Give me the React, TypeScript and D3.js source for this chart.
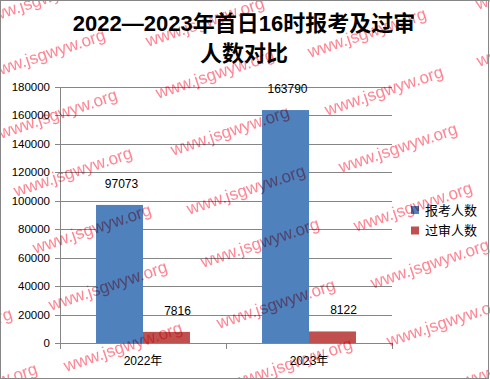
import React from "react";
import * as d3 from "d3";

const categories = ["2022年", "2023年"];
const seriesNames = ["报考人数", "过审人数"];
const applicants = [97073, 163790];
const approved = [7816, 8122];
const seriesColors = ["#4F81BD", "#C0504D"];
const yTicks = [0, 20000, 40000, 60000, 80000, 100000, 120000, 140000, 160000, 180000];
const titleLines = ["2022—2023年首日16时报考及过审", "人数对比"];
const watermarkText = "www.jsgwyw.org";
const watermarkCenters: [number, number][] = [
  [40, 0], [46, 54], [58, 114], [73, 172], [92, 229], [108, 286], [123, 347],
  [-47, 333], [-22, 388],
  [205, 22], [215, 74], [230, 131], [246, 190], [260, 243], [276, 304], [293, 363],
  [367, 33], [384, 91], [398, 148], [413, 207], [430, 264], [446, 322], [462, 382],
  [535, -15], [536, 42],
];

const W = 490;
const H = 379;
const plot = { left: 60, right: 392, top: 87, bottom: 343 };
const font = "'Liberation Sans', Arial, 'Noto Sans CJK SC', sans-serif";

export default function App() {
  const y = d3.scaleLinear().domain([0, 180000]).range([plot.bottom, plot.top]);
  const x = d3
    .scaleBand<string>()
    .domain(categories)
    .range([plot.left, plot.right])
    .paddingInner(0.434)
    .paddingOuter(0.217);
  const xs = d3.scaleBand<string>().domain(seriesNames).range([0, x.bandwidth()]).padding(0);
  const values = [applicants, approved];
  const labelDx = [2, 11];
  const step = x.step();
  const boundaries = [plot.left, ...categories.map((c) => (x(c) as number) - step * 0.217 + step)];

  return (
    <svg
      width={W}
      height={H}
      style={{ position: "absolute", left: 0, top: 0, background: "#fff" }}
      fontFamily={font}
    >
      <rect x={0} y={0} width={W} height={H} fill="#fff" />
      {titleLines.map((t, i) => (
        <text
          key={i}
          x={244}
          y={31 + i * 30}
          textAnchor="middle"
          fontSize={22}
          fontWeight="bold"
          fill="#000"
        >
          {t}
        </text>
      ))}
      {yTicks.map((t) => (
        <line
          key={"g" + t}
          x1={plot.left}
          x2={plot.right}
          y1={Math.round(y(t)) + 0.5}
          y2={Math.round(y(t)) + 0.5}
          stroke="#868686"
          strokeWidth={1}
        />
      ))}
      {yTicks.map((t) => (
        <g key={"t" + t}>
          <line
            x1={plot.left - 5}
            x2={plot.left}
            y1={Math.round(y(t)) + 0.5}
            y2={Math.round(y(t)) + 0.5}
            stroke="#868686"
          />
          <text x={50} y={y(t) + 4} textAnchor="end" fontSize={11.5} fill="#000">
            {String(t)}
          </text>
        </g>
      ))}
      {categories.map((c, ci) =>
        seriesNames.map((s, si) => {
          const v = values[si][ci];
          const bx = (x(c) as number) + (xs(s) as number);
          return (
            <rect
              key={c + s}
              x={bx}
              y={y(v)}
              width={xs.bandwidth()}
              height={plot.bottom - y(v)}
              fill={seriesColors[si]}
            />
          );
        })
      )}
      <line x1={plot.left + 0.5} x2={plot.left + 0.5} y1={plot.top} y2={plot.bottom + 6} stroke="#868686" />
      <line x1={plot.left} x2={plot.right} y1={plot.bottom + 0.5} y2={plot.bottom + 0.5} stroke="#868686" />
      {boundaries.map((bx, i) => (
        <line
          key={"xt" + i}
          x1={Math.round(bx) + 0.5}
          x2={Math.round(bx) + 0.5}
          y1={plot.bottom}
          y2={plot.bottom + 6}
          stroke="#868686"
        />
      ))}
      {categories.map((c, ci) =>
        seriesNames.map((s, si) => {
          const v = values[si][ci];
          const cx = (x(c) as number) + (xs(s) as number) + xs.bandwidth() / 2 + labelDx[si];
          const ly = Math.max(y(v) - 17, plot.top + 1);
          return (
            <text key={"l" + c + s} x={cx} y={ly} textAnchor="middle" fontSize={12} fill="#000">
              {String(v)}
            </text>
          );
        })
      )}
      {categories.map((c) => (
        <text
          key={"c" + c}
          x={(x(c) as number) + x.bandwidth() / 2}
          y={365}
          textAnchor="middle"
          fontSize={12}
          fill="#000"
        >
          {c}
        </text>
      ))}
      {seriesNames.map((s, i) => (
        <g key={"lg" + s}>
          <rect x={411} y={206 + i * 20.5} width={8} height={8} fill={seriesColors[i]} />
          <text x={425} y={214.5 + i * 20.5} fontSize={13} fill="#000">
            {s}
          </text>
        </g>
      ))}
      <g style={{ mixBlendMode: "multiply" }}>
        {watermarkCenters.map(([cx, cy], i) => (
          <text
            key={"w" + i}
            x={0}
            y={0}
            transform={`translate(${cx},${cy}) rotate(-18.5)`}
            textAnchor="middle"
            dominantBaseline="central"
            fontSize={17}
            fill="#ff8593"
            fontFamily="'Liberation Sans', Arial, sans-serif"
          >
            {watermarkText}
          </text>
        ))}
      </g>
      <rect x={0.5} y={0.5} width={488} height={378} fill="none" stroke="#868686" />
    </svg>
  );
}
